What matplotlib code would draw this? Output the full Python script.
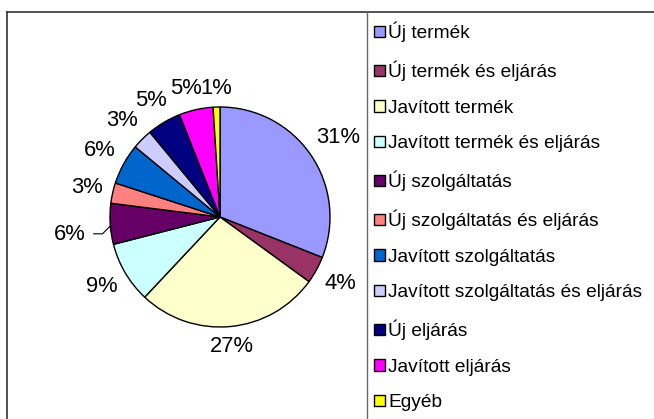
import numpy as np
import matplotlib
matplotlib.use("Agg")
import matplotlib.pyplot as plt
from matplotlib.patches import Patch
from matplotlib.lines import Line2D

# data
categories = ["Új termék", "Új termék és eljárás", "Javított termék",
              "Javított termék és eljárás", "Új szolgáltatás",
              "Új szolgáltatás és eljárás", "Javított szolgáltatás",
              "Javított szolgáltatás és eljárás", "Új eljárás",
              "Javított eljárás", "Egyéb"]
shares = [31, 4, 27, 9, 6, 3, 6, 3, 5, 5, 1]
colors = ["#9999FF", "#993366", "#FFFFCC", "#CCFFFF", "#660066", "#FF8080",
          "#0066CC", "#CCCCFF", "#000080", "#FF00FF", "#FFFF00"]

plt.rcParams['font.family'] = ['Liberation Sans', 'DejaVu Sans']

W, H = 654, 419
fig = plt.figure(figsize=(W / 100, H / 100), dpi=100)

# chart frame + legend frame (cropped at right / bottom)
fx = lambda px: px / W
fy = lambda py: 1 - py / H
fig.add_artist(Line2D([fx(7), fx(7)], [fy(12), 0], color="#333333", lw=1.2))
fig.add_artist(Line2D([fx(7), 1], [fy(12), fy(12)], color="#333333", lw=1.2))
fig.add_artist(Line2D([fx(367), fx(367)], [fy(12), 0], color="#666666", lw=1.0))

# pie: centre (220, 217) px, radius 110 px
cx, cy, r = 220, 217, 110
ax = fig.add_axes([fx(cx - r), fy(cy + r), 2 * r / W, 2 * r / H])
wedges, texts, autotexts = ax.pie(
    shares, colors=colors, startangle=90, counterclock=False,
    autopct='%.0f%%', pctdistance=1.25,
    wedgeprops=dict(edgecolor="black", linewidth=1.0),
    textprops=dict(fontsize=15.8, color="black"))
ax.set_xlim(-1, 1)
ax.set_ylim(-1, 1)
ax.set_aspect("equal")
ax.axis("off")

# Excel-like label placement: the label box sits just outside the rim
fig.canvas.draw()
rend = fig.canvas.get_renderer()
halfw = []
for i, (w, t) in enumerate(zip(wedges, autotexts)):
    a = np.deg2rad((w.theta1 + w.theta2) / 2)
    bb = t.get_window_extent(rend)
    hw, hh = bb.width / 2 / r, bb.height / 2 / r
    halfw.append(hw)
    d = 1.08 + abs(np.cos(a)) * hw + abs(np.sin(a)) * hh * 0.9
    t.set_position((d * np.cos(a), d * np.sin(a)))

# push crowded top labels to the left so they just touch
for i in range(len(autotexts) - 2, 6, -1):
    x1, y1 = autotexts[i + 1].get_position()
    x0, y0 = autotexts[i].get_position()
    limit = x1 - halfw[i + 1] - halfw[i] + 0.02
    if x0 > limit:
        autotexts[i].set_position((limit, y0))

# the purple 6% label is pushed out with a leader line
w = wedges[4]
a = np.deg2rad((w.theta1 + w.theta2) / 2)
ex, ey = np.cos(a), np.sin(a)
autotexts[4].set_position((1.37 * ex, 1.37 * ey - 0.07))
ax.plot([ex, ex - 0.07, ex - 0.15], [ey - 0.02, ey - 0.09, ey - 0.09],
        color="black", lw=0.8, clip_on=False)

# legend
handles = [Patch(facecolor=c, edgecolor="black", linewidth=1.0) for c in colors]
fig.legend(handles, categories, loc="upper left",
           bbox_to_anchor=(fx(374), fy(22)), frameon=False,
           fontsize=13.8, handlelength=0.55, handleheight=0.55,
           handletextpad=0.2, labelspacing=0.965, borderpad=0, borderaxespad=0)

fig.savefig("out.png", dpi=100)
